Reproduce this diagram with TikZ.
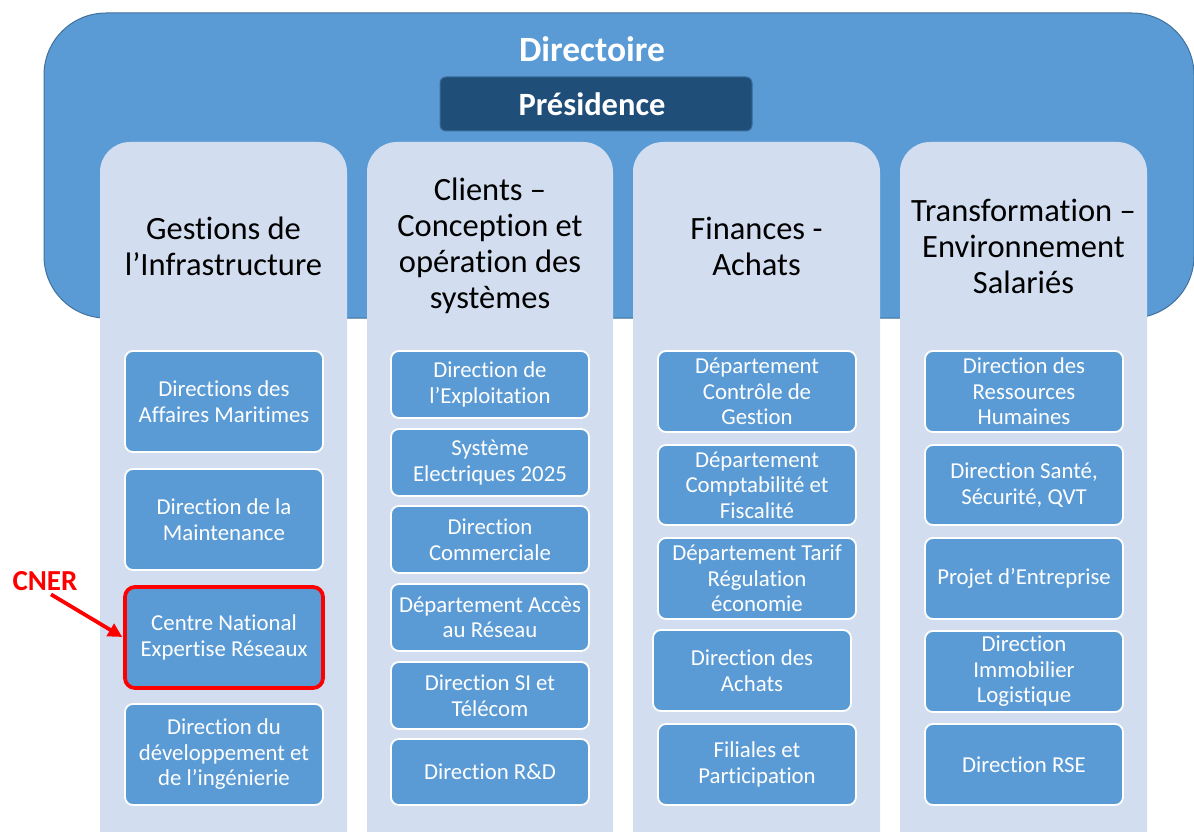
\documentclass[tikz,border=0pt]{standalone}
\usepackage{fontspec}
\setmainfont{Carlito}[Ligatures=NoCommon]
\usetikzlibrary{arrows.meta}
\definecolor{bigblue}{HTML}{5B9BD5}
\definecolor{bigedge}{HTML}{41719C}
\definecolor{colfill}{HTML}{D2DEEF}
\definecolor{presfill}{HTML}{1F4E79}
\definecolor{presedge}{HTML}{3A6C98}
\definecolor{cnerred}{HTML}{FF0000}
\tikzset{
  colbox/.style={fill=colfill, draw=none, rounded corners=30pt},
  header/.style={text=black, align=center, font=\fontsize{32.5}{36}\selectfont},
  unit/.style={draw=white, line width=1.8pt, fill=bigblue, rounded corners=8pt,
    text=white, align=center, font=\fontsize{22.8}{25.5}\selectfont,
    minimum width=198pt, inner sep=1pt},
}
\begin{document}
\begin{tikzpicture}[x=1pt,y=-1pt]
\useasboundingbox (0,0) rectangle (1194,832);
\clip (0,0) rectangle (1194,832);
% big Directoire box
\path[fill=bigblue, draw=bigedge, line width=1pt, rounded corners=62pt] (44,13) rectangle (1194,318);
\node[text=white, font=\bfseries\fontsize{35.5}{40}\selectfont] (dir) at (592,49) {Directoire};
\node[fill=presfill, draw=presedge, line width=1pt, rounded corners=6pt, minimum width=312pt, minimum height=54pt,
  text=white, font=\bfseries\fontsize{32.5}{38}\selectfont] (pres) at (596,104) {\hspace*{-8pt}Présidence};
% columns
\path[colbox] (100,142) rectangle (347,900);
\path[colbox] (367,142) rectangle (613,900);
\path[colbox] (633,142) rectangle (880,900);
\path[colbox] (900,142) rectangle (1147,900);
% headers
\node[header] (h1) at (223.5,246) {Gestions de\\l’Infrastructure};
\node[header] (h2) at (490,246) {Clients –\\Conception et\\opération des\\systèmes};
\node[header] (h3) at (756.5,246) {Finances -\\Achats};
\node[header] (h4) at (1023.5,246) {Transformation –\\Environnement\\Salariés};
% column 1
\node[unit, minimum height=101pt] (a1) at (224,401.5) {Directions des\\Affaires Maritimes};
\node[unit, minimum height=101pt] (a2) at (224,519.5) {Direction de la\\Maintenance};
\node[unit, minimum height=101pt, draw=cnerred, line width=3.8pt, rounded corners=10pt] (cner) at (224,637.5) {Centre National\\Expertise Réseaux};
\node[unit, minimum height=101pt] (a4) at (224,754.5) {Direction du\\développement et\\de l’ingénierie};
% column 2
\node[unit, minimum height=67pt] (b1) at (490,384.5) {Direction de\\l’Exploitation};
\node[unit, minimum height=67pt] (b2) at (490,462.5) {Système\\Electriques 2025};
\node[unit, minimum height=67pt] (b3) at (490,539.5) {Direction\\Commerciale};
\node[unit, minimum height=67pt] (b4) at (490,617.5) {Département Accès\\au Réseau};
\node[unit, minimum height=67pt] (b5) at (490,695.5) {Direction SI et\\Télécom};
\node[unit, minimum height=66pt] (b6) at (490,772) {Direction R\&D};
% column 3
\node[unit, minimum height=81pt] (c1) at (757,391.5) {Département\\Contrôle de\\Gestion};
\node[unit, minimum height=80pt] (c2) at (757,485) {Département\\Comptabilité et\\Fiscalité};
\node[unit, minimum height=81pt] (c3) at (757,578.5) {Département Tarif\\Régulation\\économie};
\node[unit, minimum height=81pt] (c4) at (752,670.5) {Direction des\\Achats};
\node[unit, minimum height=81pt] (c5) at (757,764.5) {Filiales et\\Participation};
% column 4
\node[unit, minimum height=81pt] (d1) at (1024,391.5) {Direction des\\Ressources\\Humaines};
\node[unit, minimum height=80pt] (d2) at (1024,485) {Direction Santé,\\Sécurité, QVT};
\node[unit, minimum height=81pt] (d3) at (1024,578.5) {Projet d’Entreprise};
\node[unit, minimum height=81pt] (d4) at (1024,671.5) {Direction\\Immobilier\\Logistique};
\node[unit, minimum height=81pt] (d5) at (1024,764.5) {Direction RSE};
% CNER annotation
\node[text=cnerred, font=\bfseries\fontsize{29}{33}\selectfont, inner sep=0pt] (cnerlabel) at (45,581) {CNER};
\draw[cnerred, line width=3.8pt, -{Triangle[length=14pt,width=14pt]}, shorten <=7pt, shorten >=1pt] (cnerlabel.south) -- (cner.west);
\end{tikzpicture}
\end{document}
